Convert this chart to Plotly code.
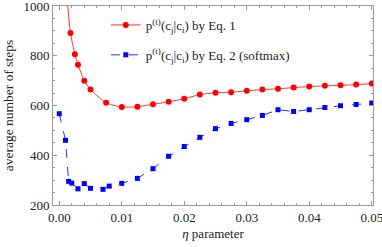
import plotly.graph_objects as go

# Data
eta_eq1 = [0.001, 0.0018, 0.0025, 0.003, 0.004, 0.005, 0.0075, 0.01, 0.0125, 0.015,
           0.0175, 0.02, 0.0225, 0.025, 0.0275, 0.03, 0.0325, 0.035, 0.0375, 0.04,
           0.0425, 0.045, 0.0475, 0.05]
steps_eq1 = [1110, 891, 806, 764, 700, 664, 611, 594, 595, 605,
             615, 627, 644, 651, 653, 659, 664, 667, 672, 676,
             679, 681, 684, 688]

eta_eq2 = [0.0, 0.001, 0.0015, 0.002, 0.003, 0.004, 0.005, 0.007, 0.008, 0.01,
           0.0125, 0.015, 0.0175, 0.02, 0.0225, 0.025, 0.0275, 0.03, 0.0325, 0.035,
           0.0375, 0.04, 0.0425, 0.045, 0.0475, 0.05]
steps_eq2 = [567, 460, 295, 288, 265, 286, 267, 263, 276, 287,
             307, 346, 396, 435, 472, 507, 528, 543, 560, 583,
             576, 583, 592, 599, 604, 610]

x_ticks = [0.0, 0.01, 0.02, 0.03, 0.04, 0.05]
x_tick_labels = ["0.00", "0.01", "0.02", "0.03", "0.04", "0.05"]
y_ticks = [200, 400, 600, 800, 1000]

name1 = "p<sup>(t)</sup>(c<sub>j</sub>|c<sub>i</sub>) by Eq. 1"
name2 = "p<sup>(t)</sup>(c<sub>j</sub>|c<sub>i</sub>) by Eq. 2 (softmax)"

FONT = "Liberation Serif, DejaVu Serif, serif"
frame = "#9a9a9a"

fig = go.Figure()
fig.add_trace(go.Scatter(
    x=eta_eq1, y=steps_eq1, name=name1, mode="lines+markers", legendgroup="eq1",
    line=dict(color="#ff3030", width=1, shape="spline", smoothing=0.6),
    marker=dict(symbol="circle", size=6, color="#ff0000"),
    cliponaxis=True,
))
fig.add_trace(go.Scatter(
    x=eta_eq2, y=steps_eq2, name=name2, mode="lines+markers", legendgroup="eq2",
    line=dict(color="#3030ff", width=1, dash="dash"),
    marker=dict(symbol="square", size=5, color="#0000ff"),
    cliponaxis=True,
))

axis_common = dict(
    showline=True, linecolor=frame, linewidth=1, mirror="allticks",
    ticks="inside", ticklen=4, tickcolor=frame, tickwidth=1,
    showgrid=False, zeroline=False, automargin=False,
    ticklabeloverflow="allow",
    tickfont=dict(family=FONT, size=13, color="#222"),
)

fig.update_xaxes(
    range=[-0.001, 0.0502], tickvals=x_ticks, ticktext=x_tick_labels,
    minor=dict(dtick=0.002, ticks="inside", ticklen=2, tickcolor=frame, showgrid=False),
    title=dict(text="<i>η</i> parameter", font=dict(family=FONT, size=13, color="#222"), standoff=5),
    **axis_common,
)
fig.update_yaxes(
    range=[200, 1000], tickvals=y_ticks,
    minor=dict(dtick=50, ticks="inside", ticklen=2, tickcolor=frame, showgrid=False),
    title=dict(text="average number of steps", font=dict(family=FONT, size=13.5, color="#222"), standoff=6),
    **axis_common,
)

fig.update_layout(
    width=382, height=247,
    margin=dict(l=53, r=9, t=6, b=42),
    plot_bgcolor="white", paper_bgcolor="white",
    font=dict(family=FONT, size=13, color="#222"),
    legend=dict(x=0.165, y=0.98, xanchor="left", yanchor="top", tracegroupgap=10,
                bgcolor="rgba(0,0,0,0)", font=dict(family=FONT, size=13)),
)

fig.write_html("out.html", config={"displayModeBar": False},
               post_script="document.body.style.margin='0';")
